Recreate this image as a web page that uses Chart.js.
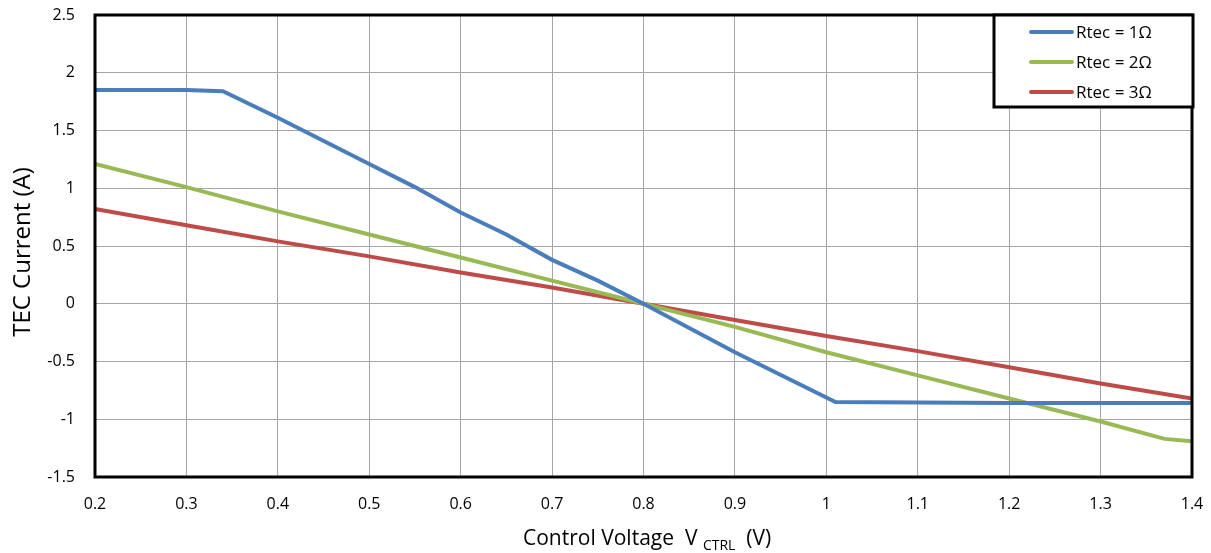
<!DOCTYPE html>
<html>
<head>
<meta charset="utf-8">
<script src="https://cdn.jsdelivr.net/npm/chart.js@4.4.0/dist/chart.umd.min.js"></script>
<style>
html,body{margin:0;padding:0;background:#fff;}
#wrap{position:relative;width:1211px;height:553px;}
</style>
</head>
<body>
<div id="wrap"><canvas id="c" width="1211" height="553"></canvas></div>
<script>
// ---- data ----
const seriesLabels = ['Rtec = 1\u03A9', 'Rtec = 2\u03A9', 'Rtec = 3\u03A9'];
const voltage1 = [0.2, 0.3, 0.34, 0.4, 0.5, 0.55, 0.6, 0.65, 0.7, 0.75, 0.8, 0.9, 1.01, 1.1, 1.2, 1.3, 1.4];
const current1 = [1.85, 1.85, 1.84, 1.61, 1.21, 1.01, 0.79, 0.6, 0.38, 0.2, 0, -0.42, -0.85, -0.855, -0.86, -0.86, -0.86];
const voltage2 = [0.2, 0.3, 0.4, 0.5, 0.6, 0.7, 0.8, 0.9, 1.0, 1.1, 1.2, 1.3, 1.37, 1.4];
const current2 = [1.21, 1.01, 0.8, 0.6, 0.4, 0.2, 0, -0.2, -0.42, -0.62, -0.82, -1.02, -1.17, -1.19];
const voltage3 = [0.2, 0.3, 0.4, 0.5, 0.6, 0.7, 0.8, 0.9, 1.0, 1.1, 1.2, 1.3, 1.4];
const current3 = [0.82, 0.68, 0.54, 0.41, 0.27, 0.14, 0, -0.14, -0.28, -0.41, -0.55, -0.69, -0.82];
const xTicks = [0.2, 0.3, 0.4, 0.5, 0.6, 0.7, 0.8, 0.9, 1.0, 1.1, 1.2, 1.3, 1.4];
const xTickLabels = ['0.2', '0.3', '0.4', '0.5', '0.6', '0.7', '0.8', '0.9', '1', '1.1', '1.2', '1.3', '1.4'];
const yTicks = [-1.5, -1, -0.5, 0, 0.5, 1, 1.5, 2, 2.5];
const yTickLabels = ['-1.5', '-1', '-0.5', '0', '0.5', '1', '1.5', '2', '2.5'];
const yTitle = 'TEC Current (A)';
const xTitleMain = 'Control Voltage  V ';
const xTitleSub = 'CTRL';
const xTitleEnd = '  (V)';

const colors = ['#4A7EBB', '#98B954', '#BE4B48'];
const FONT = '"Open Sans", sans-serif';

function pts(xs, ys) { return xs.map((x, i) => ({x: x, y: ys[i]})); }

const frame = {
  id: 'frame',
  afterDraw(chart) {
    const ctx = chart.ctx, a = chart.chartArea;
    ctx.save();
    ctx.strokeStyle = '#000';
    ctx.lineWidth = 3;
    ctx.strokeRect(a.left, a.top, a.right - a.left, a.bottom - a.top);
    // legend box
    const lx = 994, ly = 15, lw = 199, lh = 92;
    ctx.fillStyle = '#fff';
    ctx.fillRect(lx, ly, lw, lh);
    ctx.strokeRect(lx, ly, lw, lh);
    ctx.font = '17px ' + FONT;
    ctx.textBaseline = 'middle';
    ctx.textAlign = 'left';
    chart.data.datasets.forEach((ds, i) => {
      const y = 32 + i * 30;
      ctx.strokeStyle = ds.borderColor;
      ctx.lineWidth = 4;
      ctx.lineCap = 'round';
      ctx.beginPath();
      ctx.moveTo(1031, y);
      ctx.lineTo(1072, y);
      ctx.stroke();
      ctx.fillStyle = '#000';
      ctx.fillText(ds.label, 1076, y + 1);
    });
    // y title
    ctx.save();
    ctx.translate(23, 252);
    ctx.rotate(-Math.PI / 2);
    ctx.textAlign = 'center';
    ctx.textBaseline = 'middle';
    ctx.font = '24px ' + FONT;
    ctx.fillStyle = '#000';
    ctx.fillText(yTitle, 0, 0);
    ctx.restore();
    // x title with subscript
    ctx.fillStyle = '#000';
    ctx.textBaseline = 'alphabetic';
    const f1 = '21px ' + FONT, f2 = '14px ' + FONT;
    ctx.font = f1; const w1 = ctx.measureText(xTitleMain).width; const w3 = ctx.measureText(xTitleEnd).width;
    ctx.font = f2; const w2 = ctx.measureText(xTitleSub).width;
    const x0 = 523;
    const base = 545;
    ctx.font = f1; ctx.fillText(xTitleMain, x0, base);
    ctx.font = f2; ctx.fillText(xTitleSub, x0 + w1, base + 5);
    ctx.font = f1; ctx.fillText(xTitleEnd, x0 + w1 + w2, base);
    ctx.restore();
  }
};

function noPad(s) { s.paddingTop = 0; s.paddingBottom = 0; s.paddingLeft = 0; s.paddingRight = 0; }

new Chart(document.getElementById('c'), {
  type: 'line',
  data: {
    datasets: [
      {label: seriesLabels[0], data: pts(voltage1, current1), borderColor: colors[0]},
      {label: seriesLabels[1], data: pts(voltage2, current2), borderColor: colors[1]},
      {label: seriesLabels[2], data: pts(voltage3, current3), borderColor: colors[2]}
    ].map(d => Object.assign(d, {borderWidth: 4, pointRadius: 0, tension: 0, fill: false}))
  },
  options: {
    responsive: false,
    animation: false,
    layout: {padding: {left: 0, top: 15, right: 19, bottom: 0}},
    plugins: {legend: {display: false}, tooltip: {enabled: false}},
    scales: {
      x: {
        type: 'linear', min: 0.2, max: 1.4,
        afterBuildTicks: s => { s.ticks = xTicks.map(v => ({value: v})); },
        afterFit: s => { s.height = 76; noPad(s); },
        ticks: {
          padding: 18, color: '#000', font: {family: FONT, size: 16},
          callback: (v) => { const i = xTicks.findIndex(t => Math.abs(t - v) < 1e-9); return i >= 0 ? xTickLabels[i] : ''; }
        },
        grid: {color: '#A6A6A6', lineWidth: 1, drawTicks: false},
        border: {display: false}
      },
      y: {
        type: 'linear', min: -1.5, max: 2.5,
        afterBuildTicks: s => { s.ticks = yTicks.map(v => ({value: v})); },
        afterFit: s => { s.width = 95; noPad(s); },
        ticks: {
          padding: 20, color: '#000', font: {family: FONT, size: 16},
          callback: (v) => { const i = yTicks.findIndex(t => Math.abs(t - v) < 1e-9); return i >= 0 ? yTickLabels[i] : ''; }
        },
        grid: {color: '#A6A6A6', lineWidth: 1, drawTicks: false},
        border: {display: false}
      }
    }
  },
  plugins: [frame]
});
</script>
</body>
</html>
